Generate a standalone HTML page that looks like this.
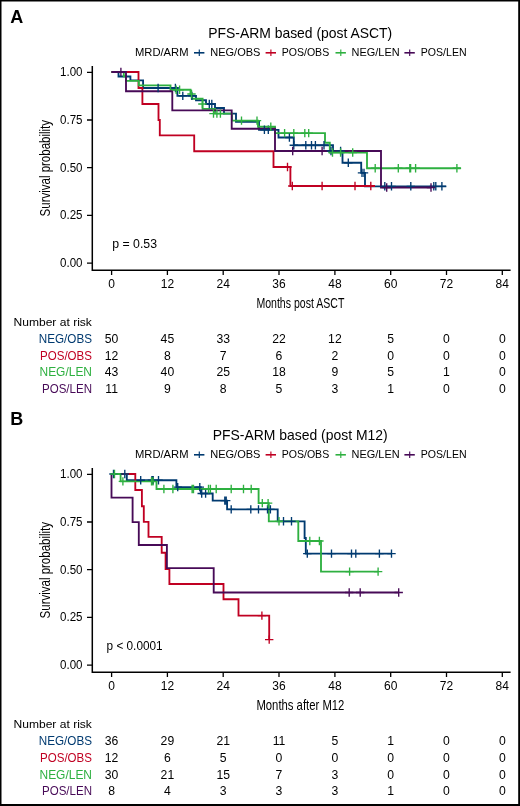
<!DOCTYPE html><html><head><meta charset="utf-8"><style>html,body{margin:0;padding:0;background:#fff;}svg{display:block;will-change:transform;}</style></head><body>
<svg width="520" height="806" viewBox="0 0 520 806" font-family='"Liberation Sans", sans-serif'>
<rect x="0" y="0" width="520" height="806" fill="#fff"/>
<text x="10.3" y="22.6" font-size="18" fill="#000" font-weight="bold">A</text>
<text x="300.2" y="38.1" font-size="15" fill="#000" text-anchor="middle" textLength="184.0" lengthAdjust="spacingAndGlyphs">PFS-ARM based (post ASCT)</text>
<text x="135.0" y="55.5" font-size="10.5" fill="#000" textLength="53.5" lengthAdjust="spacingAndGlyphs">MRD/ARM</text>
<path d="M194.0,52.8H204.4" stroke="#003a70" stroke-width="1.6" fill="none"/>
<path d="M199.3,49.4V56.0" stroke="#003a70" stroke-width="1.15" fill="none"/>
<text x="210.2" y="55.5" font-size="10.5" fill="#000" textLength="50.3" lengthAdjust="spacingAndGlyphs">NEG/OBS</text>
<path d="M265.6,52.8H276.0" stroke="#c00022" stroke-width="1.6" fill="none"/>
<path d="M270.9,49.4V56.0" stroke="#c00022" stroke-width="1.15" fill="none"/>
<text x="281.7" y="55.5" font-size="10.5" fill="#000" textLength="47.5" lengthAdjust="spacingAndGlyphs">POS/OBS</text>
<path d="M335.5,52.8H345.9" stroke="#2eb040" stroke-width="1.6" fill="none"/>
<path d="M340.8,49.4V56.0" stroke="#2eb040" stroke-width="1.15" fill="none"/>
<text x="351.6" y="55.5" font-size="10.5" fill="#000" textLength="48.0" lengthAdjust="spacingAndGlyphs">NEG/LEN</text>
<path d="M404.4,52.8H414.8" stroke="#470a57" stroke-width="1.6" fill="none"/>
<path d="M409.7,49.4V56.0" stroke="#470a57" stroke-width="1.15" fill="none"/>
<text x="420.8" y="55.5" font-size="10.5" fill="#000" textLength="45.8" lengthAdjust="spacingAndGlyphs">POS/LEN</text>
<path d="M92.3,66.1V270.3H510.6" fill="none" stroke="#000" stroke-width="1.5"/>
<path d="M87.0,72.3H92.3M87.0,120.0H92.3M87.0,167.7H92.3M87.0,215.4H92.3M87.0,263.1H92.3M111.6,270.3V274.9M167.4,270.3V274.9M223.2,270.3V274.9M279.0,270.3V274.9M334.9,270.3V274.9M390.7,270.3V274.9M446.5,270.3V274.9M502.3,270.3V274.9" fill="none" stroke="#000" stroke-width="1.3"/>
<text x="82.5" y="76.2" font-size="12" fill="#000" text-anchor="end" textLength="22.5" lengthAdjust="spacingAndGlyphs">1.00</text>
<text x="82.5" y="123.9" font-size="12" fill="#000" text-anchor="end" textLength="22.5" lengthAdjust="spacingAndGlyphs">0.75</text>
<text x="82.5" y="171.6" font-size="12" fill="#000" text-anchor="end" textLength="22.5" lengthAdjust="spacingAndGlyphs">0.50</text>
<text x="82.5" y="219.3" font-size="12" fill="#000" text-anchor="end" textLength="22.5" lengthAdjust="spacingAndGlyphs">0.25</text>
<text x="82.5" y="267.0" font-size="12" fill="#000" text-anchor="end" textLength="22.5" lengthAdjust="spacingAndGlyphs">0.00</text>
<text x="111.6" y="288.0" font-size="12" fill="#000" text-anchor="middle">0</text>
<text x="167.4" y="288.0" font-size="12" fill="#000" text-anchor="middle">12</text>
<text x="223.2" y="288.0" font-size="12" fill="#000" text-anchor="middle">24</text>
<text x="279.0" y="288.0" font-size="12" fill="#000" text-anchor="middle">36</text>
<text x="334.9" y="288.0" font-size="12" fill="#000" text-anchor="middle">48</text>
<text x="390.7" y="288.0" font-size="12" fill="#000" text-anchor="middle">60</text>
<text x="446.5" y="288.0" font-size="12" fill="#000" text-anchor="middle">72</text>
<text x="502.3" y="288.0" font-size="12" fill="#000" text-anchor="middle">84</text>
<text x="300.4" y="307.5" font-size="14.5" fill="#000" text-anchor="middle" textLength="88.0" lengthAdjust="spacingAndGlyphs">Months post ASCT</text>
<text x="0" y="0" font-size="14.5" text-anchor="middle" textLength="96.4" lengthAdjust="spacingAndGlyphs" transform="translate(49.6,168.2) rotate(-90)">Survival probability</text>
<text x="134.6" y="247.9" font-size="12.3" fill="#000" text-anchor="middle">p = 0.53</text>
<path d="M111.5,72.0H118.5V76.5H130.4V80.3H143.1V88.0H177.4V95.9H196V100.2H206V104.0H215V108.0H224V113.6H236V121.7H259V129.8H278.5V137.5H293.8V145.2H333V151.0H342.5V162.7H361.2V172.9H365V186.3H446.3" fill="none" stroke="#003a70" stroke-width="1.85" stroke-linejoin="miter" stroke-linecap="butt"/>
<path d="M111.5,72.0H138.5V88.0H142.4V104.0H158.5V120.0H159.8V135.3H194.2V151.2H273.5V167.0H290.4V186.0H375" fill="none" stroke="#c00022" stroke-width="1.85" stroke-linejoin="miter" stroke-linecap="butt"/>
<path d="M111.5,72.0H123.8V76.4H126V80.8H138.8V85.4H170.5V89.7H190.5V94.0H191.8V98.7H202.6V108.8H215V113.6H232V120.6H258V126.7H275V133.1H325V142.7H329.8V152.5H367V168.2H460.8" fill="none" stroke="#2eb040" stroke-width="1.85" stroke-linejoin="miter" stroke-linecap="butt"/>
<path d="M111.5,72.0H126V91.2H172.3V110.3H231.7V128.7H275V151.0H381V187.5H431" fill="none" stroke="#470a57" stroke-width="1.85" stroke-linejoin="miter" stroke-linecap="butt"/>
<path d="M158.1,83.8V92.2M153.9,88.0H162.3M175.4,83.8V92.2M171.2,88.0H179.6M182.8,91.7V100.1M178.6,95.9H187.0M191.9,91.7V100.1M187.7,95.9H196.1M209.3,99.8V108.2M205.1,104.0H213.5M211.8,99.8V108.2M207.6,104.0H216.0M264.4,125.6V134.0M260.2,129.8H268.6M268.3,125.6V134.0M264.1,129.8H272.5M289.4,133.3V141.7M285.2,137.5H293.6M293.8,141.0V149.4M289.6,145.2H298.0M305.8,141.0V149.4M301.6,145.2H310.0M311.5,141.0V149.4M307.3,145.2H315.7M315.4,141.0V149.4M311.2,145.2H319.6M324.0,141.0V149.4M319.8,145.2H328.2M331.0,146.8V155.2M326.8,151.0H335.2M340.6,146.8V155.2M336.4,151.0H344.8M348.3,158.5V166.9M344.1,162.7H352.5M362.0,168.7V177.1M357.8,172.9H366.2M364.0,168.7V177.1M359.8,172.9H368.2M384.8,182.1V190.5M380.6,186.3H389.0M391.5,182.1V190.5M387.3,186.3H395.7M410.8,182.1V190.5M406.6,186.3H415.0M433.8,182.1V190.5M429.6,186.3H438.0M435.8,182.1V190.5M431.6,186.3H440.0M441.9,182.1V190.5M437.7,186.3H446.1" fill="none" stroke="#003a70" stroke-width="1.35"/>
<path d="M287.5,162.8V171.2M283.3,167.0H291.7M292.3,181.8V190.2M288.1,186.0H296.5M322.1,181.8V190.2M317.9,186.0H326.3M355.0,181.8V190.2M350.8,186.0H359.2M370.8,181.8V190.2M366.6,186.0H375.0" fill="none" stroke="#c00022" stroke-width="1.35"/>
<path d="M176.2,85.5V93.9M172.0,89.7H180.4M179.6,85.5V93.9M175.4,89.7H183.8M191.5,89.8V98.2M187.3,94.0H195.7M202.4,99.8V108.2M198.2,104.0H206.6M213.5,109.4V117.8M209.3,113.6H217.7M216.9,109.4V117.8M212.7,113.6H221.1M220.4,109.4V117.8M216.2,113.6H224.6M241.5,116.4V124.8M237.3,120.6H245.7M257.0,116.4V124.8M252.8,120.6H261.2M270.8,122.5V130.9M266.6,126.7H275.0M284.6,128.9V137.3M280.4,133.1H288.8M293.8,128.9V137.3M289.6,133.1H298.0M304.8,128.9V137.3M300.6,133.1H309.0M308.7,128.9V137.3M304.5,133.1H312.9M332.5,148.3V156.7M328.3,152.5H336.7M340.6,148.3V156.7M336.4,152.5H344.8M352.7,148.3V156.7M348.5,152.5H356.9M375.2,164.0V172.4M371.0,168.2H379.4M398.3,164.0V172.4M394.1,168.2H402.5M409.8,164.0V172.4M405.6,168.2H414.0M410.6,164.0V172.4M406.4,168.2H414.8M415.6,164.0V172.4M411.4,168.2H419.8M456.9,164.0V172.4M452.7,168.2H461.1" fill="none" stroke="#2eb040" stroke-width="1.35"/>
<path d="M120.9,67.8V76.2M116.7,72.0H125.1M292.7,146.8V155.2M288.5,151.0H296.9M322.1,146.8V155.2M317.9,151.0H326.3M386.7,183.3V191.7M382.5,187.5H390.9M431.0,183.3V191.7M426.8,187.5H435.2" fill="none" stroke="#470a57" stroke-width="1.35"/>
<text x="91.9" y="326.0" font-size="11" fill="#000" text-anchor="end" textLength="78.4" lengthAdjust="spacingAndGlyphs">Number at risk</text>
<text x="92.0" y="343.0" font-size="12.6" fill="#003a70" text-anchor="end" textLength="53.3" lengthAdjust="spacingAndGlyphs">NEG/OBS</text>
<text x="111.6" y="343.0" font-size="12.2" fill="#000" text-anchor="middle">50</text>
<text x="167.4" y="343.0" font-size="12.2" fill="#000" text-anchor="middle">45</text>
<text x="223.2" y="343.0" font-size="12.2" fill="#000" text-anchor="middle">33</text>
<text x="279.0" y="343.0" font-size="12.2" fill="#000" text-anchor="middle">22</text>
<text x="334.9" y="343.0" font-size="12.2" fill="#000" text-anchor="middle">12</text>
<text x="390.7" y="343.0" font-size="12.2" fill="#000" text-anchor="middle">5</text>
<text x="446.5" y="343.0" font-size="12.2" fill="#000" text-anchor="middle">0</text>
<text x="502.3" y="343.0" font-size="12.2" fill="#000" text-anchor="middle">0</text>
<text x="92.0" y="359.6" font-size="12.6" fill="#c00022" text-anchor="end" textLength="52.0" lengthAdjust="spacingAndGlyphs">POS/OBS</text>
<text x="111.6" y="359.6" font-size="12.2" fill="#000" text-anchor="middle">12</text>
<text x="167.4" y="359.6" font-size="12.2" fill="#000" text-anchor="middle">8</text>
<text x="223.2" y="359.6" font-size="12.2" fill="#000" text-anchor="middle">7</text>
<text x="279.0" y="359.6" font-size="12.2" fill="#000" text-anchor="middle">6</text>
<text x="334.9" y="359.6" font-size="12.2" fill="#000" text-anchor="middle">2</text>
<text x="390.7" y="359.6" font-size="12.2" fill="#000" text-anchor="middle">0</text>
<text x="446.5" y="359.6" font-size="12.2" fill="#000" text-anchor="middle">0</text>
<text x="502.3" y="359.6" font-size="12.2" fill="#000" text-anchor="middle">0</text>
<text x="92.0" y="376.2" font-size="12.6" fill="#2eb040" text-anchor="end" textLength="52.5" lengthAdjust="spacingAndGlyphs">NEG/LEN</text>
<text x="111.6" y="376.2" font-size="12.2" fill="#000" text-anchor="middle">43</text>
<text x="167.4" y="376.2" font-size="12.2" fill="#000" text-anchor="middle">40</text>
<text x="223.2" y="376.2" font-size="12.2" fill="#000" text-anchor="middle">25</text>
<text x="279.0" y="376.2" font-size="12.2" fill="#000" text-anchor="middle">18</text>
<text x="334.9" y="376.2" font-size="12.2" fill="#000" text-anchor="middle">9</text>
<text x="390.7" y="376.2" font-size="12.2" fill="#000" text-anchor="middle">5</text>
<text x="446.5" y="376.2" font-size="12.2" fill="#000" text-anchor="middle">1</text>
<text x="502.3" y="376.2" font-size="12.2" fill="#000" text-anchor="middle">0</text>
<text x="92.0" y="393.0" font-size="12.6" fill="#470a57" text-anchor="end" textLength="50.0" lengthAdjust="spacingAndGlyphs">POS/LEN</text>
<text x="111.6" y="393.0" font-size="12.2" fill="#000" text-anchor="middle">11</text>
<text x="167.4" y="393.0" font-size="12.2" fill="#000" text-anchor="middle">9</text>
<text x="223.2" y="393.0" font-size="12.2" fill="#000" text-anchor="middle">8</text>
<text x="279.0" y="393.0" font-size="12.2" fill="#000" text-anchor="middle">5</text>
<text x="334.9" y="393.0" font-size="12.2" fill="#000" text-anchor="middle">3</text>
<text x="390.7" y="393.0" font-size="12.2" fill="#000" text-anchor="middle">1</text>
<text x="446.5" y="393.0" font-size="12.2" fill="#000" text-anchor="middle">0</text>
<text x="502.3" y="393.0" font-size="12.2" fill="#000" text-anchor="middle">0</text>
<text x="10.3" y="424.6" font-size="18" fill="#000" font-weight="bold">B</text>
<text x="300.2" y="440.1" font-size="15" fill="#000" text-anchor="middle" textLength="175.0" lengthAdjust="spacingAndGlyphs">PFS-ARM based (post M12)</text>
<text x="135.0" y="457.5" font-size="10.5" fill="#000" textLength="53.5" lengthAdjust="spacingAndGlyphs">MRD/ARM</text>
<path d="M194.0,454.8H204.4" stroke="#003a70" stroke-width="1.6" fill="none"/>
<path d="M199.3,451.4V458.0" stroke="#003a70" stroke-width="1.15" fill="none"/>
<text x="210.2" y="457.5" font-size="10.5" fill="#000" textLength="50.3" lengthAdjust="spacingAndGlyphs">NEG/OBS</text>
<path d="M265.6,454.8H276.0" stroke="#c00022" stroke-width="1.6" fill="none"/>
<path d="M270.9,451.4V458.0" stroke="#c00022" stroke-width="1.15" fill="none"/>
<text x="281.7" y="457.5" font-size="10.5" fill="#000" textLength="47.5" lengthAdjust="spacingAndGlyphs">POS/OBS</text>
<path d="M335.5,454.8H345.9" stroke="#2eb040" stroke-width="1.6" fill="none"/>
<path d="M340.8,451.4V458.0" stroke="#2eb040" stroke-width="1.15" fill="none"/>
<text x="351.6" y="457.5" font-size="10.5" fill="#000" textLength="48.0" lengthAdjust="spacingAndGlyphs">NEG/LEN</text>
<path d="M404.4,454.8H414.8" stroke="#470a57" stroke-width="1.6" fill="none"/>
<path d="M409.7,451.4V458.0" stroke="#470a57" stroke-width="1.15" fill="none"/>
<text x="420.8" y="457.5" font-size="10.5" fill="#000" textLength="45.8" lengthAdjust="spacingAndGlyphs">POS/LEN</text>
<path d="M92.3,468.1V672.3H510.6" fill="none" stroke="#000" stroke-width="1.5"/>
<path d="M87.0,474.3H92.3M87.0,522.0H92.3M87.0,569.7H92.3M87.0,617.4H92.3M87.0,665.1H92.3M111.6,672.3V676.9M167.4,672.3V676.9M223.2,672.3V676.9M279.0,672.3V676.9M334.9,672.3V676.9M390.7,672.3V676.9M446.5,672.3V676.9M502.3,672.3V676.9" fill="none" stroke="#000" stroke-width="1.3"/>
<text x="82.5" y="478.2" font-size="12" fill="#000" text-anchor="end" textLength="22.5" lengthAdjust="spacingAndGlyphs">1.00</text>
<text x="82.5" y="525.9000000000001" font-size="12" fill="#000" text-anchor="end" textLength="22.5" lengthAdjust="spacingAndGlyphs">0.75</text>
<text x="82.5" y="573.6" font-size="12" fill="#000" text-anchor="end" textLength="22.5" lengthAdjust="spacingAndGlyphs">0.50</text>
<text x="82.5" y="621.3000000000001" font-size="12" fill="#000" text-anchor="end" textLength="22.5" lengthAdjust="spacingAndGlyphs">0.25</text>
<text x="82.5" y="669.0" font-size="12" fill="#000" text-anchor="end" textLength="22.5" lengthAdjust="spacingAndGlyphs">0.00</text>
<text x="111.6" y="690.0" font-size="12" fill="#000" text-anchor="middle">0</text>
<text x="167.4" y="690.0" font-size="12" fill="#000" text-anchor="middle">12</text>
<text x="223.2" y="690.0" font-size="12" fill="#000" text-anchor="middle">24</text>
<text x="279.0" y="690.0" font-size="12" fill="#000" text-anchor="middle">36</text>
<text x="334.9" y="690.0" font-size="12" fill="#000" text-anchor="middle">48</text>
<text x="390.7" y="690.0" font-size="12" fill="#000" text-anchor="middle">60</text>
<text x="446.5" y="690.0" font-size="12" fill="#000" text-anchor="middle">72</text>
<text x="502.3" y="690.0" font-size="12" fill="#000" text-anchor="middle">84</text>
<text x="300.4" y="709.5" font-size="14.5" fill="#000" text-anchor="middle" textLength="88.0" lengthAdjust="spacingAndGlyphs">Months after M12</text>
<text x="0" y="0" font-size="14.5" text-anchor="middle" textLength="96.4" lengthAdjust="spacingAndGlyphs" transform="translate(49.6,570.2) rotate(-90)">Survival probability</text>
<text x="134.6" y="649.9" font-size="12.3" fill="#000" text-anchor="middle" textLength="56.0" lengthAdjust="spacingAndGlyphs">p &lt; 0.0001</text>
<path d="M111.5,474.0H126.8V480.2H176.4V487.1H200.8V493.5H212.7V500.6H227.1V509.4H277.7V521.3H304.6V538.0H305.8V553.6H391.5" fill="none" stroke="#003a70" stroke-width="1.85" stroke-linejoin="miter" stroke-linecap="butt"/>
<path d="M111.5,474.0H135.3V490.0H141.9V506.2H143.8V521.9H148.5V536.9H161.7V552.7H165.6V569.0H169.4V584.0H223.5V599.2H238.5V615.6H269.2V639.6" fill="none" stroke="#c00022" stroke-width="1.85" stroke-linejoin="miter" stroke-linecap="butt"/>
<path d="M111.5,474.0H120.6V481.4H156.5V489.0H258.6V503.1H268.8V521.3H298.3V541.0H321V571.6H378.1" fill="none" stroke="#2eb040" stroke-width="1.85" stroke-linejoin="miter" stroke-linecap="butt"/>
<path d="M111.5,474.2V497.6H132.6V522.1H138.8V545.0H166.9V568.1H213.7V592.5H398.7" fill="none" stroke="#470a57" stroke-width="1.85" stroke-linejoin="miter" stroke-linecap="butt"/>
<path d="M113.5,469.8V478.2M109.3,474.0H117.7M124.8,469.8V478.2M120.6,474.0H129.0M140.7,476.0V484.4M136.5,480.2H144.9M151.9,476.0V484.4M147.7,480.2H156.1M153.2,476.0V484.4M149.0,480.2H157.4M158.5,476.0V484.4M154.3,480.2H162.7M177.7,482.9V491.3M173.5,487.1H181.9M199.8,482.9V491.3M195.6,487.1H204.0M201.7,489.3V497.7M197.5,493.5H205.9M205.6,489.3V497.7M201.4,493.5H209.8M224.8,496.4V504.8M220.6,500.6H229.0M226.2,496.4V504.8M222.0,500.6H230.4M231.2,505.2V513.6M227.0,509.4H235.4M250.8,505.2V513.6M246.6,509.4H255.0M258.5,505.2V513.6M254.3,509.4H262.7M267.5,505.2V513.6M263.3,509.4H271.7M270.4,505.2V513.6M266.2,509.4H274.6M283.5,517.1V525.5M279.3,521.3H287.7M291.5,517.1V525.5M287.3,521.3H295.7M307.3,549.4V557.8M303.1,553.6H311.5M331.5,549.4V557.8M327.3,553.6H335.7M351.5,549.4V557.8M347.3,553.6H355.7M355.8,549.4V557.8M351.6,553.6H360.0M379.4,549.4V557.8M375.2,553.6H383.6M391.5,549.4V557.8M387.3,553.6H395.7" fill="none" stroke="#003a70" stroke-width="1.35"/>
<path d="M261.9,611.4V619.8M257.7,615.6H266.1M269.2,635.4V643.8M265.0,639.6H273.4" fill="none" stroke="#c00022" stroke-width="1.35"/>
<path d="M114.5,469.8V478.2M110.3,474.0H118.7M122.9,477.2V485.6M118.7,481.4H127.1M151.5,477.2V485.6M147.3,481.4H155.7M153.0,477.2V485.6M148.8,481.4H157.2M163.9,484.8V493.2M159.7,489.0H168.1M172.9,484.8V493.2M168.7,489.0H177.1M192.1,484.8V493.2M187.9,489.0H196.3M193.5,484.8V493.2M189.3,489.0H197.7M208.5,484.8V493.2M204.3,489.0H212.7M210.4,484.8V493.2M206.2,489.0H214.6M216.2,484.8V493.2M212.0,489.0H220.4M231.2,484.8V493.2M227.0,489.0H235.4M243.5,484.8V493.2M239.3,489.0H247.7M251.2,484.8V493.2M247.0,489.0H255.4M262.3,498.9V507.3M258.1,503.1H266.5M268.1,498.9V507.3M263.9,503.1H272.3M279.0,517.1V525.5M274.8,521.3H283.2M309.8,536.8V545.2M305.6,541.0H314.0M319.4,536.8V545.2M315.2,541.0H323.6M349.6,567.4V575.8M345.4,571.6H353.8M378.1,567.4V575.8M373.9,571.6H382.3" fill="none" stroke="#2eb040" stroke-width="1.35"/>
<path d="M349.2,588.3V596.7M345.0,592.5H353.4M360.2,588.3V596.7M356.0,592.5H364.4M398.7,588.3V596.7M394.5,592.5H402.9" fill="none" stroke="#470a57" stroke-width="1.35"/>
<text x="91.9" y="728.3" font-size="11" fill="#000" text-anchor="end" textLength="78.4" lengthAdjust="spacingAndGlyphs">Number at risk</text>
<text x="92.0" y="745.3" font-size="12.6" fill="#003a70" text-anchor="end" textLength="53.3" lengthAdjust="spacingAndGlyphs">NEG/OBS</text>
<text x="111.6" y="745.3" font-size="12.2" fill="#000" text-anchor="middle">36</text>
<text x="167.4" y="745.3" font-size="12.2" fill="#000" text-anchor="middle">29</text>
<text x="223.2" y="745.3" font-size="12.2" fill="#000" text-anchor="middle">21</text>
<text x="279.0" y="745.3" font-size="12.2" fill="#000" text-anchor="middle">11</text>
<text x="334.9" y="745.3" font-size="12.2" fill="#000" text-anchor="middle">5</text>
<text x="390.7" y="745.3" font-size="12.2" fill="#000" text-anchor="middle">1</text>
<text x="446.5" y="745.3" font-size="12.2" fill="#000" text-anchor="middle">0</text>
<text x="502.3" y="745.3" font-size="12.2" fill="#000" text-anchor="middle">0</text>
<text x="92.0" y="761.9" font-size="12.6" fill="#c00022" text-anchor="end" textLength="52.0" lengthAdjust="spacingAndGlyphs">POS/OBS</text>
<text x="111.6" y="761.9" font-size="12.2" fill="#000" text-anchor="middle">12</text>
<text x="167.4" y="761.9" font-size="12.2" fill="#000" text-anchor="middle">6</text>
<text x="223.2" y="761.9" font-size="12.2" fill="#000" text-anchor="middle">5</text>
<text x="279.0" y="761.9" font-size="12.2" fill="#000" text-anchor="middle">0</text>
<text x="334.9" y="761.9" font-size="12.2" fill="#000" text-anchor="middle">0</text>
<text x="390.7" y="761.9" font-size="12.2" fill="#000" text-anchor="middle">0</text>
<text x="446.5" y="761.9" font-size="12.2" fill="#000" text-anchor="middle">0</text>
<text x="502.3" y="761.9" font-size="12.2" fill="#000" text-anchor="middle">0</text>
<text x="92.0" y="778.5" font-size="12.6" fill="#2eb040" text-anchor="end" textLength="52.5" lengthAdjust="spacingAndGlyphs">NEG/LEN</text>
<text x="111.6" y="778.5" font-size="12.2" fill="#000" text-anchor="middle">30</text>
<text x="167.4" y="778.5" font-size="12.2" fill="#000" text-anchor="middle">21</text>
<text x="223.2" y="778.5" font-size="12.2" fill="#000" text-anchor="middle">15</text>
<text x="279.0" y="778.5" font-size="12.2" fill="#000" text-anchor="middle">7</text>
<text x="334.9" y="778.5" font-size="12.2" fill="#000" text-anchor="middle">3</text>
<text x="390.7" y="778.5" font-size="12.2" fill="#000" text-anchor="middle">0</text>
<text x="446.5" y="778.5" font-size="12.2" fill="#000" text-anchor="middle">0</text>
<text x="502.3" y="778.5" font-size="12.2" fill="#000" text-anchor="middle">0</text>
<text x="92.0" y="795.3" font-size="12.6" fill="#470a57" text-anchor="end" textLength="50.0" lengthAdjust="spacingAndGlyphs">POS/LEN</text>
<text x="111.6" y="795.3" font-size="12.2" fill="#000" text-anchor="middle">8</text>
<text x="167.4" y="795.3" font-size="12.2" fill="#000" text-anchor="middle">4</text>
<text x="223.2" y="795.3" font-size="12.2" fill="#000" text-anchor="middle">3</text>
<text x="279.0" y="795.3" font-size="12.2" fill="#000" text-anchor="middle">3</text>
<text x="334.9" y="795.3" font-size="12.2" fill="#000" text-anchor="middle">3</text>
<text x="390.7" y="795.3" font-size="12.2" fill="#000" text-anchor="middle">1</text>
<text x="446.5" y="795.3" font-size="12.2" fill="#000" text-anchor="middle">0</text>
<text x="502.3" y="795.3" font-size="12.2" fill="#000" text-anchor="middle">0</text>
<rect x="0" y="0" width="1.5" height="806" fill="#000"/>
<rect x="0" y="0" width="520" height="1.5" fill="#000"/>
<rect x="518.2" y="0" width="1.8" height="806" fill="#000"/>
<rect x="0" y="804" width="520" height="2" fill="#000"/>
</svg></body></html>
